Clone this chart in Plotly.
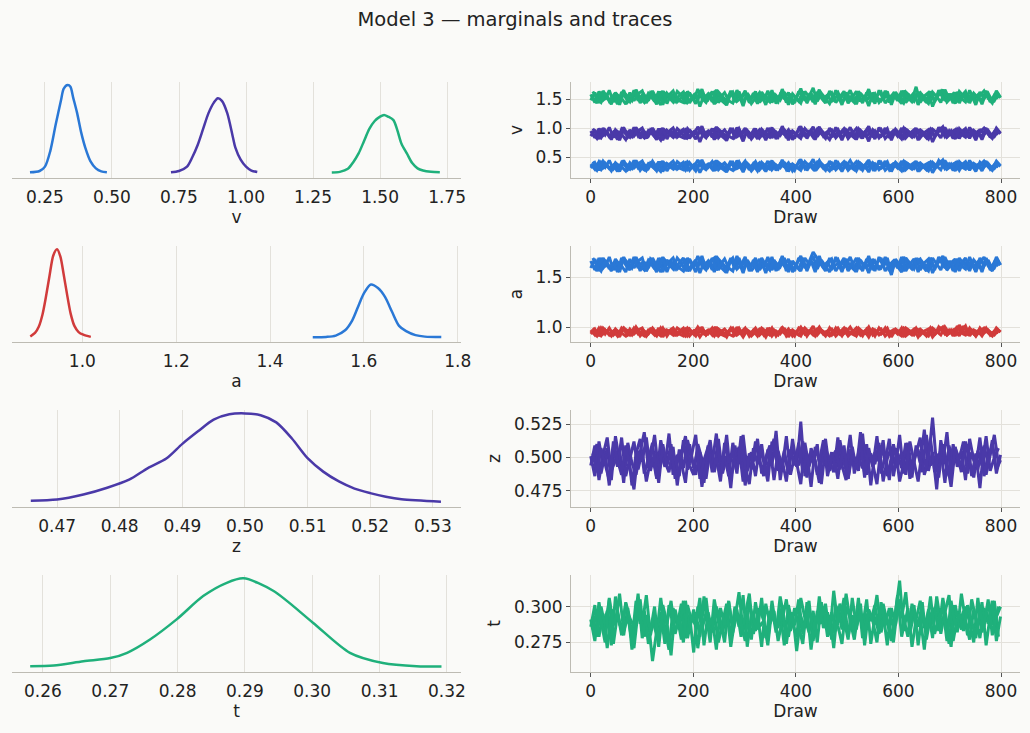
import numpy as np
import plotly.graph_objects as go

BLUE = '#2a78d6'
PURPLE = '#4a39a8'
GREEN = '#1fb07b'
RED = '#d13b3b'
BG = '#fafaf8'
GRID = '#e3e1db'
SPINE = '#bdbbb3'
TICK = '#555555'
TXT = '#222222'

# ---- marginal densities (x, relative density)
v_blue_x = [0.194, 0.23, 0.25, 0.27, 0.29, 0.31, 0.32, 0.335, 0.345, 0.355, 0.37, 0.385, 0.40, 0.42, 0.44, 0.46, 0.481]
v_blue_d = [0.05, 0.2, 0.7, 2.5, 5.5, 8.3, 9.6, 10.0, 9.8, 8.6, 6.8, 4.6, 2.9, 1.3, 0.5, 0.15, 0.05]
v_purple_x = [0.720, 0.75, 0.78, 0.80, 0.82, 0.84, 0.86, 0.88, 0.895, 0.91, 0.93, 0.95, 0.96, 0.98, 1.00, 1.02, 1.042]
v_purple_d = [0.05, 0.2, 0.7, 1.8, 3.2, 5.0, 6.8, 8.0, 8.5, 8.2, 6.8, 4.2, 2.9, 1.5, 0.7, 0.25, 0.08]
v_green_x = [1.32, 1.35, 1.38, 1.40, 1.42, 1.44, 1.46, 1.48, 1.50, 1.515, 1.53, 1.55, 1.565, 1.58, 1.60, 1.62, 1.64, 1.66, 1.69, 1.723]
v_green_d = [0.03, 0.1, 0.45, 1.2, 2.2, 3.6, 5.0, 5.9, 6.4, 6.6, 6.4, 6.0, 4.8, 3.3, 2.2, 1.1, 0.5, 0.25, 0.1, 0.05]

a_red_x = [0.889, 0.899, 0.907, 0.915, 0.922, 0.930, 0.938, 0.946, 0.953, 0.960, 0.967, 0.975, 0.983, 0.992, 1.002, 1.018]
a_red_d = [0.1, 0.5, 1.2, 2.6, 4.5, 7.0, 9.3, 10.0, 9.2, 7.2, 5.0, 2.7, 1.3, 0.6, 0.3, 0.05]
a_blue_x = [1.491, 1.52, 1.54, 1.56, 1.575, 1.59, 1.60, 1.615, 1.63, 1.645, 1.66, 1.675, 1.69, 1.71, 1.73, 1.765]
a_blue_d = [0.02, 0.05, 0.2, 0.8, 1.9, 3.8, 5.0, 6.0, 5.6, 4.6, 2.9, 1.3, 0.7, 0.25, 0.08, 0.03]

z_x = [0.4658, 0.470, 0.4742, 0.478, 0.4815, 0.4845, 0.4875, 0.490, 0.4925, 0.495, 0.4975, 0.500,
       0.5025, 0.505, 0.5075, 0.510, 0.5125, 0.515, 0.5175, 0.520, 0.5225, 0.525, 0.5313]
z_d = [0.26, 0.38, 0.94, 1.7, 2.6, 3.9, 5.0, 6.6, 8.0, 9.3, 9.9, 10.0,
       9.8, 9.0, 7.2, 5.0, 3.5, 2.4, 1.6, 1.1, 0.7, 0.42, 0.15]

t_x = [0.2581, 0.2616, 0.2660, 0.2700, 0.2725, 0.2759, 0.2799, 0.2838, 0.2873, 0.2898, 0.2942,
       0.3001, 0.3056, 0.3105, 0.3155, 0.3192]
t_d = [0.08, 0.15, 0.64, 1.0, 1.6, 3.1, 5.4, 8.0, 9.5, 10.0, 8.6, 5.0, 1.6, 0.45, 0.08, 0.04]

# ---- trace values: four chains, every 8th draw (chains 3-4 offset by 4 draws)
draws_a = np.linspace(0, 795, 100)
draws_b = draws_a + 4

v_blue_c1 = [0.38, 0.29, 0.42, 0.31, 0.36, 0.26, 0.40, 0.33, 0.44, 0.28, 0.35, 0.41, 0.27, 0.37, 0.30, 0.43, 0.32, 0.25, 0.39, 0.34,
             0.29, 0.42, 0.36, 0.27, 0.40, 0.31, 0.45, 0.33, 0.28, 0.38, 0.26, 0.41, 0.35, 0.30, 0.43, 0.29, 0.37, 0.24, 0.39, 0.32,
             0.42, 0.28, 0.36, 0.31, 0.44, 0.27, 0.38, 0.33, 0.40, 0.26, 0.35, 0.46, 0.30, 0.37, 0.29, 0.41, 0.34, 0.27, 0.43, 0.31,
             0.36, 0.25, 0.40, 0.33, 0.28, 0.42, 0.35, 0.30, 0.39, 0.26, 0.44, 0.32, 0.37, 0.29, 0.41, 0.34, 0.27, 0.38, 0.31, 0.43,
             0.28, 0.36, 0.40, 0.23, 0.35, 0.42, 0.30, 0.38, 0.27, 0.41, 0.33, 0.29, 0.44, 0.32, 0.37, 0.26, 0.40, 0.34, 0.30, 0.39]
v_blue_c2 = [0.31, 0.40, 0.27, 0.43, 0.34, 0.29, 0.38, 0.25, 0.41, 0.36, 0.30, 0.44, 0.33, 0.28, 0.39, 0.35, 0.26, 0.42, 0.31, 0.37,
             0.43, 0.29, 0.34, 0.40, 0.27, 0.36, 0.32, 0.45, 0.30, 0.38, 0.41, 0.28, 0.35, 0.24, 0.39, 0.33, 0.42, 0.29, 0.37, 0.26,
             0.34, 0.40, 0.30, 0.43, 0.28, 0.36, 0.31, 0.41, 0.25, 0.38, 0.33, 0.27, 0.42, 0.35, 0.46, 0.30, 0.39, 0.32, 0.26, 0.37,
             0.41, 0.29, 0.34, 0.44, 0.31, 0.36, 0.27, 0.40, 0.33, 0.38, 0.28, 0.35, 0.42, 0.25, 0.39, 0.31, 0.43, 0.34, 0.29, 0.37,
             0.40, 0.32, 0.26, 0.41, 0.35, 0.28, 0.44, 0.33, 0.38, 0.30, 0.36, 0.42, 0.27, 0.39, 0.34, 0.31, 0.43, 0.29, 0.37, 0.33]
v_blue_c3 = [0.35, 0.27, 0.41, 0.32, 0.44, 0.29, 0.37, 0.33, 0.26, 0.40, 0.31, 0.38, 0.43, 0.28, 0.36, 0.30, 0.42, 0.25, 0.39, 0.34,
             0.37, 0.31, 0.28, 0.42, 0.35, 0.26, 0.40, 0.33, 0.38, 0.29, 0.44, 0.32, 0.27, 0.36, 0.41, 0.30, 0.34, 0.43, 0.28, 0.39,
             0.31, 0.37, 0.25, 0.40, 0.34, 0.29, 0.45, 0.32, 0.36, 0.27, 0.42, 0.35, 0.30, 0.38, 0.26, 0.41, 0.33, 0.37, 0.29, 0.44,
             0.32, 0.39, 0.27, 0.35, 0.42, 0.30, 0.36, 0.24, 0.40, 0.34, 0.31, 0.43, 0.28, 0.38, 0.33, 0.26, 0.41, 0.36, 0.30, 0.39,
             0.35, 0.28, 0.42, 0.31, 0.37, 0.45, 0.29, 0.34, 0.40, 0.27, 0.38, 0.32, 0.36, 0.25, 0.41, 0.33, 0.39, 0.30, 0.43, 0.35]
v_blue_c4 = [0.42, 0.33, 0.28, 0.39, 0.30, 0.36, 0.25, 0.41, 0.34, 0.29, 0.44, 0.31, 0.37, 0.27, 0.40, 0.35, 0.32, 0.43, 0.26, 0.38,
             0.30, 0.36, 0.41, 0.28, 0.34, 0.39, 0.23, 0.37, 0.32, 0.42, 0.29, 0.35, 0.40, 0.31, 0.27, 0.44, 0.33, 0.38, 0.30, 0.36,
             0.26, 0.41, 0.34, 0.29, 0.39, 0.32, 0.43, 0.28, 0.37, 0.35, 0.30, 0.42, 0.27, 0.38, 0.33, 0.44, 0.31, 0.36, 0.40, 0.28,
             0.35, 0.42, 0.30, 0.37, 0.26, 0.39, 0.33, 0.45, 0.29, 0.36, 0.41, 0.27, 0.34, 0.38, 0.31, 0.43, 0.28, 0.35, 0.40, 0.25,
             0.37, 0.32, 0.41, 0.29, 0.44, 0.34, 0.30, 0.38, 0.26, 0.42, 0.35, 0.31, 0.39, 0.28, 0.36, 0.43, 0.33, 0.27, 0.40, 0.34]

v_purple_c1 = [0.95, 0.83, 0.99, 0.87, 0.93, 0.80, 0.97, 0.89, 1.01, 0.84, 0.91, 0.98, 0.82, 0.94, 0.86, 1.00, 0.88, 0.79, 0.96, 0.90,
               0.84, 0.99, 0.92, 0.81, 0.97, 0.87, 1.02, 0.89, 0.83, 0.95, 0.80, 0.98, 0.91, 0.85, 1.00, 0.84, 0.93, 0.77, 0.96, 0.88,
               0.99, 0.83, 0.92, 0.86, 1.01, 0.81, 0.95, 0.89, 0.97, 0.80, 0.91, 1.03, 0.85, 0.94, 0.84, 0.98, 0.90, 0.82, 1.00, 0.87,
               0.93, 0.79, 0.97, 0.89, 0.83, 0.99, 0.91, 0.85, 0.96, 0.81, 1.01, 0.88, 0.94, 0.84, 0.98, 0.90, 0.82, 0.95, 0.87, 1.00,
               0.83, 0.92, 0.97, 0.76, 0.91, 0.99, 0.85, 0.95, 0.82, 0.98, 0.89, 0.84, 1.01, 0.88, 0.94, 0.80, 0.97, 0.90, 0.85, 0.96]
v_purple_c2 = [0.86, 0.97, 0.81, 1.00, 0.90, 0.84, 0.95, 0.79, 0.98, 0.92, 0.85, 1.01, 0.89, 0.83, 0.96, 0.91, 0.80, 0.99, 0.87, 0.94,
               1.00, 0.84, 0.90, 0.97, 0.82, 0.93, 0.88, 1.03, 0.85, 0.95, 0.98, 0.83, 0.91, 0.78, 0.96, 0.89, 0.99, 0.84, 0.94, 0.81,
               0.90, 0.97, 0.85, 1.00, 0.83, 0.93, 0.87, 0.98, 0.79, 0.95, 0.89, 0.82, 0.99, 0.91, 1.02, 0.85, 0.96, 0.88, 0.80, 0.94,
               0.98, 0.84, 0.90, 1.01, 0.86, 0.93, 0.82, 0.97, 0.89, 0.95, 0.83, 0.91, 0.99, 0.79, 0.96, 0.86, 1.00, 0.90, 0.84, 0.94,
               0.97, 0.88, 0.81, 0.98, 0.92, 0.83, 1.01, 0.89, 0.95, 0.85, 0.93, 0.99, 0.82, 0.96, 0.90, 0.86, 1.00, 0.84, 0.94, 0.89]
v_purple_c3 = [0.91, 0.82, 0.98, 0.88, 1.01, 0.84, 0.94, 0.89, 0.80, 0.97, 0.86, 0.95, 1.00, 0.83, 0.93, 0.85, 0.99, 0.79, 0.96, 0.90,
               0.94, 0.86, 0.83, 0.99, 0.91, 0.81, 0.97, 0.89, 0.95, 0.84, 1.02, 0.88, 0.82, 0.93, 0.98, 0.85, 0.90, 1.00, 0.83, 0.96,
               0.86, 0.94, 0.79, 0.97, 0.90, 0.84, 1.03, 0.88, 0.93, 0.82, 0.99, 0.91, 0.85, 0.95, 0.80, 0.98, 0.89, 0.94, 0.84, 1.01,
               0.88, 0.96, 0.82, 0.91, 0.99, 0.85, 0.93, 0.77, 0.97, 0.90, 0.86, 1.00, 0.83, 0.95, 0.89, 0.81, 0.98, 0.92, 0.85, 0.96,
               0.91, 0.83, 0.99, 0.86, 0.94, 1.02, 0.84, 0.90, 0.97, 0.82, 0.95, 0.88, 0.93, 0.79, 0.98, 0.89, 0.96, 0.85, 1.00, 0.91]
v_purple_c4 = [0.99, 0.89, 0.83, 0.96, 0.85, 0.93, 0.80, 0.98, 0.90, 0.84, 1.01, 0.86, 0.94, 0.82, 0.97, 0.91, 0.87, 1.00, 0.81, 0.95,
               0.85, 0.93, 0.98, 0.83, 0.90, 0.96, 0.76, 0.94, 0.88, 0.99, 0.84, 0.91, 0.97, 0.86, 0.82, 1.01, 0.89, 0.95, 0.85, 0.93,
               0.81, 0.98, 0.90, 0.84, 0.96, 0.88, 1.00, 0.83, 0.94, 0.91, 0.85, 0.99, 0.82, 0.95, 0.89, 1.02, 0.86, 0.93, 0.97, 0.83,
               0.91, 0.99, 0.85, 0.94, 0.80, 0.96, 0.89, 1.03, 0.84, 0.93, 0.98, 0.82, 0.90, 0.95, 0.86, 1.00, 0.83, 0.91, 0.97, 0.79,
               0.94, 0.88, 0.98, 0.84, 1.01, 0.90, 0.85, 0.95, 0.81, 0.99, 0.91, 0.86, 0.96, 0.83, 0.93, 1.00, 0.89, 0.82, 0.97, 0.90]

v_green_c1 = [1.58, 1.44, 1.63, 1.48, 1.55, 1.41, 1.61, 1.51, 1.65, 1.45, 1.53, 1.62, 1.43, 1.57, 1.47, 1.64, 1.50, 1.40, 1.60, 1.52,
              1.45, 1.63, 1.56, 1.42, 1.61, 1.48, 1.67, 1.51, 1.44, 1.58, 1.41, 1.62, 1.54, 1.46, 1.64, 1.45, 1.57, 1.38, 1.60, 1.50,
              1.63, 1.44, 1.55, 1.48, 1.65, 1.42, 1.58, 1.51, 1.61, 1.41, 1.53, 1.68, 1.47, 1.57, 1.45, 1.62, 1.52, 1.43, 1.64, 1.49,
              1.56, 1.40, 1.61, 1.51, 1.44, 1.63, 1.54, 1.47, 1.60, 1.42, 1.65, 1.50, 1.57, 1.45, 1.62, 1.53, 1.43, 1.59, 1.48, 1.71,
              1.44, 1.55, 1.61, 1.37, 1.54, 1.63, 1.47, 1.59, 1.43, 1.62, 1.51, 1.45, 1.65, 1.50, 1.57, 1.41, 1.61, 1.52, 1.47, 1.60]
v_green_c2 = [1.48, 1.61, 1.43, 1.64, 1.52, 1.45, 1.59, 1.40, 1.62, 1.55, 1.47, 1.66, 1.51, 1.44, 1.60, 1.54, 1.41, 1.63, 1.48, 1.57,
              1.64, 1.45, 1.52, 1.61, 1.43, 1.56, 1.49, 1.67, 1.46, 1.59, 1.62, 1.44, 1.53, 1.39, 1.60, 1.51, 1.63, 1.45, 1.57, 1.42,
              1.52, 1.61, 1.47, 1.64, 1.44, 1.56, 1.48, 1.62, 1.40, 1.59, 1.51, 1.43, 1.63, 1.54, 1.69, 1.46, 1.60, 1.50, 1.42, 1.57,
              1.62, 1.45, 1.52, 1.65, 1.48, 1.56, 1.43, 1.61, 1.51, 1.59, 1.44, 1.53, 1.63, 1.40, 1.60, 1.48, 1.64, 1.52, 1.45, 1.57,
              1.61, 1.49, 1.42, 1.62, 1.54, 1.44, 1.66, 1.51, 1.59, 1.47, 1.56, 1.63, 1.43, 1.60, 1.52, 1.48, 1.64, 1.45, 1.57, 1.51]
v_green_c3 = [1.53, 1.43, 1.62, 1.49, 1.65, 1.45, 1.57, 1.51, 1.41, 1.61, 1.47, 1.59, 1.64, 1.44, 1.56, 1.46, 1.63, 1.40, 1.60, 1.52,
              1.57, 1.47, 1.44, 1.63, 1.54, 1.42, 1.61, 1.51, 1.59, 1.45, 1.66, 1.49, 1.43, 1.56, 1.62, 1.46, 1.52, 1.64, 1.44, 1.60,
              1.47, 1.57, 1.40, 1.61, 1.52, 1.45, 1.67, 1.49, 1.56, 1.43, 1.63, 1.54, 1.46, 1.59, 1.41, 1.62, 1.51, 1.57, 1.45, 1.65,
              1.49, 1.60, 1.43, 1.53, 1.63, 1.46, 1.56, 1.38, 1.61, 1.52, 1.47, 1.64, 1.44, 1.59, 1.51, 1.42, 1.62, 1.55, 1.46, 1.60,
              1.53, 1.44, 1.63, 1.47, 1.57, 1.66, 1.45, 1.52, 1.61, 1.43, 1.59, 1.49, 1.56, 1.40, 1.62, 1.51, 1.60, 1.46, 1.64, 1.53]
v_green_c4 = [1.63, 1.51, 1.44, 1.60, 1.46, 1.56, 1.41, 1.62, 1.52, 1.45, 1.65, 1.47, 1.57, 1.43, 1.61, 1.54, 1.48, 1.64, 1.42, 1.59,
              1.46, 1.56, 1.62, 1.44, 1.52, 1.60, 1.37, 1.57, 1.49, 1.63, 1.45, 1.53, 1.61, 1.47, 1.43, 1.65, 1.51, 1.59, 1.46, 1.56,
              1.42, 1.62, 1.52, 1.45, 1.60, 1.49, 1.64, 1.44, 1.57, 1.54, 1.46, 1.63, 1.43, 1.59, 1.51, 1.66, 1.47, 1.56, 1.61, 1.44,
              1.53, 1.63, 1.46, 1.57, 1.41, 1.60, 1.51, 1.67, 1.45, 1.56, 1.62, 1.43, 1.52, 1.59, 1.47, 1.64, 1.44, 1.53, 1.61, 1.40,
              1.57, 1.49, 1.62, 1.45, 1.65, 1.52, 1.46, 1.59, 1.42, 1.63, 1.54, 1.47, 1.60, 1.44, 1.56, 1.64, 1.51, 1.43, 1.61, 1.52]

a_red_c1 = [0.97, 0.92, 0.99, 0.93, 0.96, 0.91, 0.98, 0.94, 0.99, 0.92, 0.95, 0.98, 0.91, 0.96, 0.93, 0.99, 0.94, 0.91, 0.97, 0.95,
            0.92, 0.99, 0.96, 0.91, 0.98, 0.93, 1.00, 0.94, 0.92, 0.97, 0.91, 0.98, 0.95, 0.93, 0.99, 0.92, 0.96, 0.90, 0.97, 0.94,
            0.99, 0.92, 0.96, 0.93, 0.99, 0.91, 0.97, 0.94, 0.98, 0.91, 0.95, 1.00, 0.93, 0.96, 0.92, 0.98, 0.95, 0.91, 0.99, 0.93,
            0.96, 0.91, 0.98, 0.94, 0.92, 0.99, 0.95, 0.93, 0.97, 0.91, 0.99, 0.94, 0.96, 0.92, 0.98, 0.95, 0.91, 0.97, 0.93, 0.99,
            0.92, 0.96, 0.98, 0.90, 0.95, 0.99, 0.93, 0.97, 0.91, 1.01, 0.94, 0.92, 0.99, 0.93, 0.96, 0.91, 0.98, 0.95, 0.92, 0.97]
a_red_c2 = [0.93, 0.98, 0.91, 0.99, 0.95, 0.92, 0.97, 0.90, 0.99, 0.96, 0.92, 1.00, 0.94, 0.91, 0.97, 0.95, 0.91, 0.99, 0.93, 0.96,
            0.99, 0.92, 0.95, 0.98, 0.91, 0.96, 0.93, 1.00, 0.92, 0.97, 0.99, 0.91, 0.95, 0.90, 0.98, 0.94, 0.99, 0.92, 0.96, 0.91,
            0.95, 0.98, 0.92, 0.99, 0.91, 0.96, 0.93, 0.99, 0.90, 0.97, 0.94, 0.91, 0.99, 0.95, 1.01, 0.92, 0.97, 0.94, 0.91, 0.96,
            0.99, 0.92, 0.95, 1.00, 0.93, 0.96, 0.91, 0.98, 0.94, 0.97, 0.92, 0.95, 0.99, 0.90, 0.97, 0.93, 0.99, 0.95, 0.92, 0.96,
            0.98, 0.94, 0.91, 0.99, 0.95, 0.92, 1.00, 0.94, 0.97, 0.93, 0.96, 1.01, 0.91, 0.97, 0.95, 0.93, 0.99, 0.92, 0.96, 0.94]
a_red_c3 = [0.95, 0.91, 0.99, 0.93, 0.99, 0.92, 0.96, 0.94, 0.91, 0.98, 0.93, 0.97, 0.99, 0.91, 0.96, 0.92, 0.99, 0.90, 0.97, 0.95,
            0.96, 0.93, 0.91, 0.99, 0.95, 0.91, 0.98, 0.94, 0.97, 0.92, 1.00, 0.93, 0.91, 0.96, 0.99, 0.92, 0.95, 0.99, 0.91, 0.97,
            0.93, 0.96, 0.90, 0.98, 0.95, 0.92, 1.00, 0.93, 0.96, 0.91, 0.99, 0.95, 0.92, 0.97, 0.91, 0.98, 0.94, 0.96, 0.92, 0.99,
            0.93, 0.97, 0.91, 0.95, 0.99, 0.92, 0.96, 0.90, 0.98, 0.95, 0.93, 0.99, 0.91, 0.97, 0.94, 0.91, 0.99, 0.96, 0.92, 0.97,
            0.95, 0.91, 0.99, 0.93, 0.96, 1.00, 0.92, 0.95, 0.98, 0.91, 1.01, 0.93, 0.96, 0.91, 0.99, 0.94, 0.97, 0.92, 0.99, 0.95]
a_red_c4 = [0.99, 0.94, 0.91, 0.97, 0.92, 0.96, 0.91, 0.99, 0.95, 0.92, 0.99, 0.93, 0.96, 0.91, 0.98, 0.95, 0.93, 0.99, 0.91, 0.97,
            0.92, 0.96, 0.99, 0.91, 0.95, 0.97, 0.90, 0.96, 0.93, 0.99, 0.92, 0.95, 0.98, 0.93, 0.91, 1.00, 0.94, 0.97, 0.92, 0.96,
            0.91, 0.99, 0.95, 0.92, 0.97, 0.93, 0.99, 0.91, 0.96, 0.95, 0.92, 0.99, 0.91, 0.97, 0.94, 1.00, 0.93, 0.96, 0.98, 0.91,
            0.95, 0.99, 0.92, 0.96, 0.91, 0.97, 0.94, 1.00, 0.92, 0.96, 0.98, 0.91, 0.95, 0.97, 0.93, 0.99, 0.91, 0.95, 0.98, 0.90,
            0.96, 0.93, 0.99, 0.92, 1.00, 0.95, 0.92, 0.97, 0.91, 1.02, 0.95, 0.93, 0.97, 0.91, 0.96, 0.99, 0.94, 0.91, 0.98, 0.95]

a_blue_c1 = [1.66, 1.57, 1.69, 1.59, 1.64, 1.56, 1.68, 1.61, 1.70, 1.58, 1.63, 1.68, 1.56, 1.65, 1.59, 1.69, 1.61, 1.55, 1.67, 1.62,
             1.58, 1.69, 1.64, 1.56, 1.68, 1.60, 1.71, 1.61, 1.57, 1.66, 1.55, 1.68, 1.63, 1.59, 1.69, 1.58, 1.65, 1.54, 1.67, 1.61,
             1.69, 1.57, 1.64, 1.59, 1.70, 1.56, 1.66, 1.61, 1.68, 1.55, 1.63, 1.71, 1.59, 1.65, 1.75, 1.68, 1.62, 1.56, 1.69, 1.60,
             1.64, 1.55, 1.68, 1.61, 1.57, 1.69, 1.63, 1.59, 1.67, 1.56, 1.70, 1.61, 1.65, 1.52, 1.68, 1.62, 1.56, 1.66, 1.60, 1.69,
             1.57, 1.64, 1.68, 1.54, 1.63, 1.69, 1.59, 1.66, 1.56, 1.68, 1.61, 1.58, 1.70, 1.60, 1.65, 1.55, 1.68, 1.62, 1.59, 1.67]
a_blue_c2 = [1.59, 1.68, 1.56, 1.69, 1.63, 1.58, 1.66, 1.55, 1.69, 1.64, 1.59, 1.70, 1.61, 1.57, 1.67, 1.63, 1.55, 1.69, 1.60, 1.65,
             1.69, 1.58, 1.62, 1.68, 1.56, 1.64, 1.60, 1.71, 1.58, 1.66, 1.69, 1.57, 1.63, 1.54, 1.67, 1.61, 1.69, 1.58, 1.65, 1.56,
             1.62, 1.68, 1.59, 1.70, 1.57, 1.64, 1.60, 1.69, 1.55, 1.66, 1.61, 1.56, 1.69, 1.63, 1.71, 1.58, 1.67, 1.61, 1.55, 1.65,
             1.68, 1.58, 1.62, 1.70, 1.59, 1.64, 1.56, 1.68, 1.61, 1.66, 1.57, 1.63, 1.69, 1.54, 1.67, 1.59, 1.70, 1.62, 1.58, 1.65,
             1.68, 1.60, 1.56, 1.69, 1.63, 1.57, 1.70, 1.61, 1.66, 1.59, 1.64, 1.69, 1.56, 1.67, 1.62, 1.59, 1.69, 1.57, 1.65, 1.61]
a_blue_c3 = [1.62, 1.56, 1.69, 1.60, 1.70, 1.57, 1.65, 1.61, 1.55, 1.68, 1.59, 1.66, 1.69, 1.56, 1.64, 1.58, 1.69, 1.55, 1.67, 1.62,
             1.65, 1.59, 1.56, 1.69, 1.63, 1.55, 1.68, 1.61, 1.66, 1.57, 1.71, 1.60, 1.56, 1.64, 1.69, 1.58, 1.62, 1.70, 1.56, 1.67,
             1.59, 1.65, 1.54, 1.68, 1.62, 1.57, 1.71, 1.60, 1.64, 1.56, 1.69, 1.63, 1.58, 1.66, 1.55, 1.68, 1.61, 1.65, 1.57, 1.70,
             1.60, 1.67, 1.56, 1.62, 1.69, 1.58, 1.64, 1.54, 1.68, 1.62, 1.59, 1.70, 1.56, 1.66, 1.61, 1.55, 1.69, 1.63, 1.58, 1.67,
             1.62, 1.56, 1.69, 1.59, 1.65, 1.71, 1.57, 1.62, 1.68, 1.56, 1.66, 1.60, 1.64, 1.55, 1.69, 1.61, 1.67, 1.58, 1.70, 1.62]
a_blue_c4 = [1.69, 1.61, 1.56, 1.67, 1.58, 1.64, 1.55, 1.69, 1.62, 1.57, 1.70, 1.59, 1.65, 1.56, 1.68, 1.63, 1.59, 1.70, 1.55, 1.66,
             1.58, 1.64, 1.69, 1.56, 1.62, 1.67, 1.54, 1.65, 1.60, 1.69, 1.57, 1.63, 1.68, 1.59, 1.56, 1.71, 1.61, 1.66, 1.58, 1.64,
             1.55, 1.69, 1.62, 1.57, 1.67, 1.60, 1.70, 1.56, 1.65, 1.63, 1.58, 1.69, 1.56, 1.66, 1.61, 1.71, 1.59, 1.64, 1.68, 1.56,
             1.63, 1.69, 1.58, 1.65, 1.55, 1.67, 1.61, 1.71, 1.57, 1.64, 1.69, 1.56, 1.62, 1.66, 1.59, 1.70, 1.56, 1.63, 1.68, 1.55,
             1.65, 1.60, 1.69, 1.57, 1.70, 1.62, 1.58, 1.66, 1.55, 1.69, 1.63, 1.59, 1.67, 1.56, 1.64, 1.70, 1.61, 1.56, 1.68, 1.62]

z_c1 = [0.501, 0.486, 0.512, 0.494, 0.507, 0.483, 0.516, 0.497, 0.490, 0.509, 0.479, 0.503, 0.514, 0.488, 0.499, 0.511, 0.484, 0.505, 0.493, 0.518,
        0.487, 0.502, 0.496, 0.481, 0.510, 0.492, 0.506, 0.478, 0.500, 0.513, 0.489, 0.504, 0.495, 0.517, 0.485, 0.498, 0.508, 0.482, 0.501, 0.491,
        0.512, 0.497, 0.486, 0.506, 0.494, 0.520, 0.483, 0.503, 0.489, 0.509, 0.496, 0.480, 0.511, 0.493, 0.505, 0.487, 0.499, 0.514, 0.490, 0.502,
        0.484, 0.508, 0.495, 0.517, 0.488, 0.501, 0.492, 0.510, 0.479, 0.504, 0.497, 0.513, 0.486, 0.500, 0.507, 0.482, 0.496, 0.511, 0.491, 0.503,
        0.515, 0.487, 0.498, 0.530, 0.493, 0.506, 0.481, 0.509, 0.495, 0.502, 0.489, 0.512, 0.497, 0.485, 0.505, 0.494, 0.516, 0.490, 0.500, 0.507]
z_c2 = [0.494, 0.509, 0.483, 0.502, 0.515, 0.490, 0.498, 0.506, 0.481, 0.511, 0.496, 0.487, 0.504, 0.519, 0.492, 0.500, 0.485, 0.513, 0.497, 0.489,
        0.508, 0.479, 0.503, 0.516, 0.494, 0.487, 0.510, 0.499, 0.484, 0.506, 0.493, 0.514, 0.488, 0.501, 0.477, 0.509, 0.495, 0.517, 0.490, 0.504,
        0.486, 0.508, 0.497, 0.482, 0.512, 0.499, 0.491, 0.505, 0.488, 0.514, 0.493, 0.527, 0.486, 0.502, 0.496, 0.510, 0.480, 0.507, 0.498, 0.489,
        0.515, 0.494, 0.483, 0.506, 0.500, 0.490, 0.518, 0.487, 0.503, 0.495, 0.511, 0.482, 0.499, 0.508, 0.492, 0.517, 0.488, 0.501, 0.485, 0.509,
        0.496, 0.521, 0.490, 0.504, 0.476, 0.513, 0.497, 0.486, 0.510, 0.493, 0.505, 0.483, 0.514, 0.498, 0.491, 0.508, 0.487, 0.502, 0.517, 0.495]
z_c3 = [0.497, 0.510, 0.488, 0.503, 0.479, 0.508, 0.493, 0.515, 0.486, 0.500, 0.512, 0.491, 0.505, 0.482, 0.498, 0.517, 0.489, 0.502, 0.495, 0.510,
        0.484, 0.506, 0.492, 0.513, 0.499, 0.487, 0.504, 0.481, 0.509, 0.496, 0.518, 0.490, 0.501, 0.486, 0.511, 0.494, 0.507, 0.479, 0.503, 0.497,
        0.514, 0.488, 0.500, 0.509, 0.483, 0.505, 0.492, 0.516, 0.487, 0.501, 0.494, 0.512, 0.485, 0.507, 0.498, 0.481, 0.510, 0.493, 0.504, 0.489,
        0.513, 0.496, 0.484, 0.508, 0.491, 0.519, 0.488, 0.502, 0.495, 0.480, 0.509, 0.497, 0.514, 0.486, 0.503, 0.492, 0.511, 0.484, 0.500, 0.506,
        0.489, 0.517, 0.494, 0.501, 0.485, 0.510, 0.496, 0.478, 0.507, 0.499, 0.512, 0.488, 0.504, 0.493, 0.515, 0.486, 0.501, 0.509, 0.491, 0.498]
z_c4 = [0.503, 0.489, 0.507, 0.495, 0.483, 0.512, 0.498, 0.487, 0.509, 0.492, 0.476, 0.505, 0.497, 0.515, 0.490, 0.503, 0.481, 0.510, 0.494, 0.506,
        0.499, 0.486, 0.513, 0.491, 0.502, 0.517, 0.484, 0.498, 0.508, 0.489, 0.500, 0.482, 0.511, 0.496, 0.504, 0.488, 0.516, 0.493, 0.480, 0.507,
        0.495, 0.510, 0.487, 0.501, 0.514, 0.490, 0.498, 0.482, 0.506, 0.494, 0.511, 0.489, 0.503, 0.478, 0.508, 0.497, 0.513, 0.486, 0.500, 0.505,
        0.491, 0.509, 0.484, 0.502, 0.496, 0.511, 0.485, 0.507, 0.493, 0.516, 0.488, 0.501, 0.483, 0.510, 0.495, 0.504, 0.487, 0.512, 0.497, 0.482,
        0.506, 0.492, 0.514, 0.489, 0.503, 0.496, 0.519, 0.485, 0.508, 0.494, 0.500, 0.510, 0.486, 0.503, 0.477, 0.509, 0.495, 0.513, 0.488, 0.502]

t_c1 = [0.291, 0.276, 0.303, 0.285, 0.297, 0.273, 0.307, 0.288, 0.280, 0.299, 0.270, 0.294, 0.305, 0.279, 0.290, 0.262, 0.283, 0.296, 0.274, 0.301,
        0.287, 0.293, 0.277, 0.304, 0.284, 0.298, 0.271, 0.292, 0.306, 0.281, 0.295, 0.275, 0.289, 0.302, 0.278, 0.300, 0.286, 0.308, 0.272, 0.294,
        0.283, 0.299, 0.290, 0.276, 0.304, 0.285, 0.296, 0.273, 0.301, 0.288, 0.279, 0.306, 0.292, 0.282, 0.297, 0.275, 0.303, 0.287, 0.294, 0.271,
        0.300, 0.284, 0.309, 0.290, 0.277, 0.298, 0.286, 0.305, 0.274, 0.293, 0.281, 0.302, 0.289, 0.276, 0.296, 0.318, 0.283, 0.299, 0.272, 0.291,
        0.304, 0.285, 0.297, 0.278, 0.307, 0.288, 0.295, 0.274, 0.301, 0.282, 0.309, 0.290, 0.277, 0.298, 0.285, 0.303, 0.273, 0.294, 0.286, 0.300]
t_c2 = [0.286, 0.301, 0.279, 0.295, 0.271, 0.298, 0.289, 0.309, 0.283, 0.293, 0.276, 0.304, 0.288, 0.297, 0.274, 0.291, 0.280, 0.306, 0.285, 0.270,
        0.299, 0.287, 0.302, 0.278, 0.294, 0.268, 0.300, 0.284, 0.296, 0.275, 0.305, 0.289, 0.281, 0.298, 0.272, 0.292, 0.310, 0.283, 0.295, 0.277,
        0.303, 0.286, 0.290, 0.273, 0.299, 0.282, 0.307, 0.291, 0.279, 0.296, 0.269, 0.293, 0.285, 0.304, 0.276, 0.297, 0.288, 0.302, 0.280, 0.311,
        0.287, 0.274, 0.300, 0.292, 0.283, 0.306, 0.278, 0.295, 0.290, 0.301, 0.284, 0.296, 0.273, 0.299, 0.287, 0.305, 0.291, 0.279, 0.302, 0.285,
        0.293, 0.270, 0.298, 0.288, 0.303, 0.281, 0.296, 0.308, 0.276, 0.292, 0.284, 0.300, 0.289, 0.275, 0.306, 0.282, 0.297, 0.287, 0.304, 0.279]
t_c3 = [0.293, 0.279, 0.300, 0.286, 0.305, 0.274, 0.295, 0.283, 0.302, 0.290, 0.271, 0.297, 0.287, 0.308, 0.280, 0.294, 0.276, 0.301, 0.289, 0.266,
        0.298, 0.284, 0.304, 0.278, 0.292, 0.287, 0.306, 0.273, 0.296, 0.282, 0.300, 0.290, 0.275, 0.303, 0.285, 0.298, 0.279, 0.293, 0.309, 0.281,
        0.295, 0.272, 0.302, 0.288, 0.297, 0.276, 0.291, 0.305, 0.283, 0.299, 0.286, 0.274, 0.303, 0.291, 0.280, 0.307, 0.285, 0.296, 0.277, 0.301,
        0.289, 0.306, 0.279, 0.294, 0.284, 0.302, 0.273, 0.297, 0.290, 0.308, 0.282, 0.295, 0.287, 0.275, 0.300, 0.292, 0.310, 0.281, 0.296, 0.286,
        0.303, 0.277, 0.293, 0.299, 0.283, 0.306, 0.289, 0.272, 0.301, 0.287, 0.297, 0.280, 0.305, 0.291, 0.278, 0.299, 0.288, 0.304, 0.276, 0.293]
t_c4 = [0.284, 0.298, 0.290, 0.275, 0.306, 0.287, 0.296, 0.280, 0.303, 0.292, 0.286, 0.309, 0.278, 0.294, 0.283, 0.300, 0.272, 0.297, 0.288, 0.304,
        0.281, 0.293, 0.275, 0.301, 0.290, 0.296, 0.279, 0.307, 0.285, 0.292, 0.270, 0.299, 0.287, 0.304, 0.282, 0.295, 0.289, 0.276, 0.302, 0.291,
        0.284, 0.306, 0.278, 0.297, 0.290, 0.285, 0.301, 0.274, 0.294, 0.287, 0.305, 0.281, 0.298, 0.270, 0.293, 0.288, 0.300, 0.279, 0.296, 0.283,
        0.302, 0.291, 0.277, 0.306, 0.286, 0.295, 0.281, 0.298, 0.290, 0.275, 0.303, 0.287, 0.299, 0.284, 0.308, 0.279, 0.294, 0.289, 0.301, 0.273,
        0.296, 0.285, 0.307, 0.281, 0.292, 0.299, 0.276, 0.304, 0.287, 0.295, 0.283, 0.301, 0.290, 0.278, 0.297, 0.286, 0.305, 0.280, 0.293, 0.300]

# panel layout: (row top px, row bottom px) in a 1030x733 page
W, H = 1030, 733
rows_px = [(82, 178), (246, 342), (410, 507), (575, 672)]
left_px = (12, 461)
right_px = (571, 1020)

kde_panels = [
    ('v', [(v_blue_x, v_blue_d, BLUE), (v_purple_x, v_purple_d, PURPLE), (v_green_x, v_green_d, GREEN)],
     [0.127, 1.802], [-0.6, 10.35], [0.25, 0.50, 0.75, 1.00, 1.25, 1.50, 1.75], '.2f'),
    ('a', [(a_red_x, a_red_d, RED), (a_blue_x, a_blue_d, BLUE)],
     [0.850, 1.807], [-0.53, 10.38], [1.0, 1.2, 1.4, 1.6, 1.8], '.1f'),
    ('z', [(z_x, z_d, PURPLE)],
     [0.4628, 0.5345], [-0.45, 10.38], [0.47, 0.48, 0.49, 0.50, 0.51, 0.52, 0.53], '.2f'),
    ('t', [(t_x, t_d, GREEN)],
     [0.2554, 0.3221], [-0.57, 10.38], [0.26, 0.27, 0.28, 0.29, 0.30, 0.31, 0.32], '.2f'),
]
trace_panels = [
    ('v', [((v_blue_c1, v_blue_c2, v_blue_c3, v_blue_c4), BLUE),
           ((v_purple_c1, v_purple_c2, v_purple_c3, v_purple_c4), PURPLE),
           ((v_green_c1, v_green_c2, v_green_c3, v_green_c4), GREEN)],
     [0.138, 1.793], [0.5, 1.0, 1.5], '.1f'),
    ('a', [((a_red_c1, a_red_c2, a_red_c3, a_red_c4), RED),
           ((a_blue_c1, a_blue_c2, a_blue_c3, a_blue_c4), BLUE)],
     [0.85, 1.81], [1.0, 1.5], '.1f'),
    ('z', [((z_c1, z_c2, z_c3, z_c4), PURPLE)],
     [0.4628, 0.5357], [0.475, 0.500, 0.525], '.3f'),
    ('t', [((t_c1, t_c2, t_c3, t_c4), GREEN)],
     [0.2544, 0.322], [0.275, 0.300], '.3f'),
]
chain_x = [draws_a, draws_a, draws_b, draws_b]

fig = go.Figure()
tick_font = dict(family='DejaVu Sans', size=17, color=TXT)
lab_font = dict(family='DejaVu Sans', size=17, color=TXT)
layout = {}

for i, ((top, bot), kp, tp) in enumerate(zip(rows_px, kde_panels, trace_panels)):
    ydom = [1 - bot / H, 1 - top / H]

    # left: marginal density
    name, curves, xr, yr, xt, fmt = kp
    ax_id = 2 * i + 1
    for xs, ds, col in curves:
        fig.add_trace(go.Scatter(x=xs, y=ds, mode='lines', line=dict(color=col, width=2.5, shape='spline', smoothing=0.8),
                                 xaxis='x%d' % ax_id, yaxis='y%d' % ax_id, showlegend=False))
    layout['xaxis%d' % ax_id] = dict(domain=[left_px[0] / W, left_px[1] / W], anchor='y%d' % ax_id, range=xr,
                                     tickvals=xt, tickformat=fmt, showgrid=True, gridcolor=GRID, gridwidth=1,
                                     showline=True, linecolor=SPINE, linewidth=1, zeroline=False,
                                     ticks='outside', ticklen=4, tickcolor=BG, tickfont=tick_font,
                                     title=dict(text=name, font=lab_font, standoff=4))
    layout['yaxis%d' % ax_id] = dict(domain=ydom, anchor='x%d' % ax_id, range=yr, showgrid=False, showline=False,
                                     zeroline=False, showticklabels=False, ticks='')

    # right: chain traces
    name, groups, yr2, yt, fmt2 = tp
    ax_id = 2 * i + 2
    for chains, col in groups:
        for xs, c in zip(chain_x, chains):
            fig.add_trace(go.Scatter(x=xs, y=c, mode='lines', line=dict(color=col, width=3.0),
                                     xaxis='x%d' % ax_id, yaxis='y%d' % ax_id, showlegend=False))
    layout['xaxis%d' % ax_id] = dict(domain=[right_px[0] / W, right_px[1] / W], anchor='y%d' % ax_id, range=[-38.5, 837],
                                     tickvals=[0, 200, 400, 600, 800], showgrid=True, gridcolor=GRID, gridwidth=1,
                                     showline=True, linecolor=SPINE, linewidth=1, zeroline=False,
                                     ticks='outside', ticklen=4, tickcolor=TICK, tickfont=tick_font,
                                     title=dict(text='Draw', font=lab_font, standoff=4))
    layout['yaxis%d' % ax_id] = dict(domain=ydom, anchor='x%d' % ax_id, range=yr2, tickvals=yt, tickformat=fmt2,
                                     showgrid=True, gridcolor=GRID, gridwidth=1, showline=True, linecolor=SPINE,
                                     linewidth=1, zeroline=False, ticks='outside', ticklen=4, tickcolor=TICK,
                                     tickfont=tick_font, title=dict(text=name, font=lab_font, standoff=8))

fig.update_layout(**layout)
fig.update_layout(
    width=W, height=H, autosize=False, margin=dict(l=0, r=0, t=0, b=0, autoexpand=False),
    paper_bgcolor=BG, plot_bgcolor=BG, showlegend=False,
    font=tick_font,
    title=dict(text='Model 3 — marginals and traces', x=0.5, xanchor='center', y=1 - 19 / H, yanchor='middle',
               font=dict(family='DejaVu Sans', size=19.5, color=TXT)),
)

fig.write_html("out.html", config={'displayModeBar': False, 'responsive': False},
               default_width='%dpx' % W, default_height='%dpx' % H,
               post_script="document.body.style.margin='0px';document.body.style.overflow='hidden';")
